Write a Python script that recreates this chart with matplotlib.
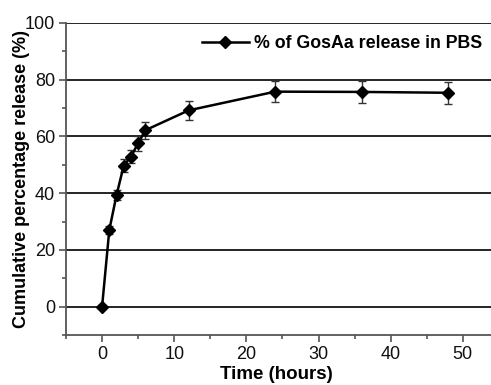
import matplotlib
matplotlib.use("Agg")
import matplotlib.pyplot as plt
from matplotlib.ticker import MultipleLocator
from matplotlib.lines import Line2D

time_h = [0, 1, 2, 3, 4, 5, 6, 12, 24, 36, 48]
release = [0, 27.0, 39.3, 49.7, 52.9, 57.6, 62.2, 69.2, 75.8, 75.7, 75.4]
err = [0.5, 1.3, 1.8, 2.2, 2.4, 2.6, 3.0, 3.4, 3.7, 3.8, 3.8]
label = "% of GosAa release in PBS"

plt.rcParams['font.family'] = ['Liberation Sans', 'DejaVu Sans']

fig = plt.figure(figsize=(4.91, 3.85), dpi=100)
ax = fig.add_axes([66/491, 50/385, 1 - 66/491, 312/385])

for y in [0, 20, 40, 60, 80, 100]:
    ax.axhline(y, color='black', lw=1.2, zorder=1)

ax.errorbar(time_h, release, yerr=err, color='black', lw=1.8, marker='D',
            ms=6.5, ecolor='#333333', elinewidth=1.0, capsize=3.2, capthick=1.0,
            zorder=3)

ax.set_xlim(-5, 53.9)
ax.set_ylim(-10, 100)
ax.xaxis.set_major_locator(MultipleLocator(10))
ax.xaxis.set_minor_locator(MultipleLocator(5))
ax.yaxis.set_minor_locator(MultipleLocator(10))
ax.set_yticks(range(0, 101, 20))

for s in ['top', 'right']:
    ax.spines[s].set_visible(False)
for s in ['left', 'bottom']:
    ax.spines[s].set_color('#555555')
    ax.spines[s].set_linewidth(1.3)

ax.tick_params(which='major', direction='out', length=5, width=1.2, color='#555555',
               labelsize=13, pad=3, labelcolor='#111111')
ax.tick_params(which='minor', direction='out', length=3, width=1.2, color='#555555')

ax.set_xlabel("Time (hours)", fontsize=13.5, fontweight='bold')
ax.set_ylabel("Cumulative percentage release (%)", fontsize=13, fontweight='bold')
ax.xaxis.set_label_coords(0.494, -0.1)
ax.yaxis.set_label_coords(-0.084, 0.5)

handle = Line2D([], [], color='black', lw=1.8, marker='D', ms=6.5)
ax.legend([handle], [label], loc='upper right', bbox_to_anchor=(1.0, 0.99), frameon=False,
          prop={'weight': 'bold', 'size': 12.8}, handlelength=2.6,
          handletextpad=0.3, borderaxespad=0.1)

fig.savefig("out.png", dpi=100)
